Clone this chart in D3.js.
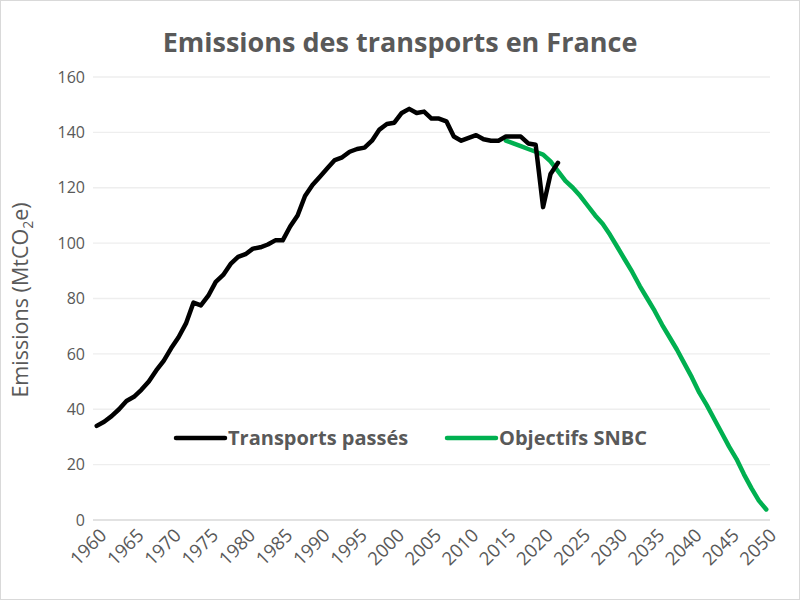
<!DOCTYPE html>
<html>
<head>
<meta charset="utf-8">
<script src="https://cdn.jsdelivr.net/npm/d3@7"></script>
<style>
  body { margin: 0; background: #fff; }
  svg { display: block; }
</style>
</head>
<body>
<div id="chart"></div>
<script>
// past emissions, 1960 to 2022
const pastYears = d3.range(1960, 2023);
const pastValues = [
    34, 35.5, 37.5, 40, 43, 44.5, 47, 50, 54, 57.5,
    62, 66, 71, 78.5, 77.5, 81, 86, 88.5, 92.5, 95,
    96, 98, 98.5, 99.5, 101, 101, 106, 110, 117, 121,
    124, 127, 130, 131, 133, 134, 134.5, 137, 141, 143,
    143.5, 147, 148.5, 147, 147.5, 145, 145, 144, 138.5, 137,
    138, 139, 137.5, 137, 137, 138.5, 138.5, 138.5, 136, 135.5,
    113, 125, 129
];

// SNBC targets, 2015 to 2050
const targetYears = d3.range(2015, 2051);
const targetValues = [
    137, 136, 135, 134, 133, 132, 129.5, 126, 122.5, 120,
    117, 113.5, 110, 107, 103, 98.5, 94, 89.5, 84.5, 80,
    75.5, 70.5, 66, 61.5, 56.5, 51.5, 46, 41.5, 36.5, 31.5,
    26.5, 22, 16.5, 11.5, 7, 3.8
];

const xTicks = d3.range(1960, 2051, 5);
const yTicks = [0, 20, 40, 60, 80, 100, 120, 140, 160];

const seriesNames = ["Transports passés", "Objectifs SNBC"];
const seriesColors = ["#000000", "#00b050"];

const width = 800, height = 600;
const font = "'Open Sans', 'Noto Sans', sans-serif";
const grey = "#595959";

const svg = d3.select("#chart")
    .append("svg")
    .attr("width", width)
    .attr("height", height);

// outer frame
svg.append("rect")
    .attr("x", 0.5).attr("y", 0.5)
    .attr("width", width - 1).attr("height", height - 1)
    .attr("fill", "#fff")
    .attr("stroke", "#d9d9d9");

const x = d3.scaleLinear().domain([1959.5, 2050.5]).range([93, 770]);
const y = d3.scaleLinear().domain([0, 160]).range([520, 77]);

// horizontal gridlines
svg.append("g")
    .selectAll("line")
    .data(yTicks)
    .join("line")
    .attr("x1", x.range()[0])
    .attr("x2", x.range()[1])
    .attr("y1", d => y(d))
    .attr("y2", d => y(d))
    .attr("stroke", d => d === 0 ? "#d9d9d9" : "#eeeeee")
    .attr("stroke-width", 1.3);

// y axis labels
const yAxis = svg.append("g")
    .attr("transform", `translate(${x.range()[0] - 8},0)`)
    .call(d3.axisLeft(y).tickValues(yTicks).tickSize(0).tickPadding(0));
yAxis.select(".domain").remove();
yAxis.selectAll("text")
    .attr("fill", grey)
    .style("font-family", font)
    .style("font-size", "16px");

// x axis labels, rotated
const xAxis = svg.append("g")
    .attr("transform", `translate(0,${y(0) + 12})`)
    .call(d3.axisBottom(x).tickValues(xTicks).tickFormat(d3.format("d")).tickSize(0).tickPadding(0));
xAxis.select(".domain").remove();
xAxis.selectAll("text")
    .attr("fill", grey)
    .attr("text-anchor", "end")
    .attr("dy", "0.35em")
    .attr("transform", "translate(6,0) rotate(-45)")
    .style("font-family", font)
    .style("font-size", "18.5px");

const line = d3.line()
    .x(d => x(d[0]))
    .y(d => y(d[1]));

// green target line first, black on top
svg.append("path")
    .datum(d3.zip(targetYears, targetValues))
    .attr("d", line)
    .attr("fill", "none")
    .attr("stroke", seriesColors[1])
    .attr("stroke-width", 4.5)
    .attr("stroke-linejoin", "round")
    .attr("stroke-linecap", "round");

svg.append("path")
    .datum(d3.zip(pastYears, pastValues))
    .attr("d", line)
    .attr("fill", "none")
    .attr("stroke", seriesColors[0])
    .attr("stroke-width", 4.5)
    .attr("stroke-linejoin", "round")
    .attr("stroke-linecap", "round");

// title
svg.append("text")
    .attr("x", 400)
    .attr("y", 52)
    .attr("text-anchor", "middle")
    .attr("fill", grey)
    .style("font-family", font)
    .style("font-weight", "bold")
    .style("font-size", "27px")
    .text("Emissions des transports en France");

// y axis title with subscript
const yTitle = svg.append("text")
    .attr("transform", "translate(28,300) rotate(-90)")
    .attr("text-anchor", "middle")
    .attr("fill", grey)
    .style("font-family", font)
    .style("font-size", "21.5px");
yTitle.append("tspan").text("Emissions (MtCO");
yTitle.append("tspan").attr("font-size", "14px").attr("dy", 5).text("2");
yTitle.append("tspan").attr("dy", -5).text("e)");

// legend
const legendX = [176, 447];
const legend = svg.append("g")
    .selectAll("g")
    .data(seriesNames)
    .join("g")
    .attr("transform", (d, i) => `translate(${legendX[i]},438)`);
legend.append("line")
    .attr("x1", 0).attr("x2", 49)
    .attr("stroke", (d, i) => seriesColors[i])
    .attr("stroke-width", 4.5)
    .attr("stroke-linecap", "round");
legend.append("text")
    .attr("x", 52)
    .attr("dy", "0.35em")
    .attr("fill", grey)
    .style("font-family", font)
    .style("font-weight", "bold")
    .style("font-size", "20px")
    .text(d => d);
</script>
</body>
</html>
